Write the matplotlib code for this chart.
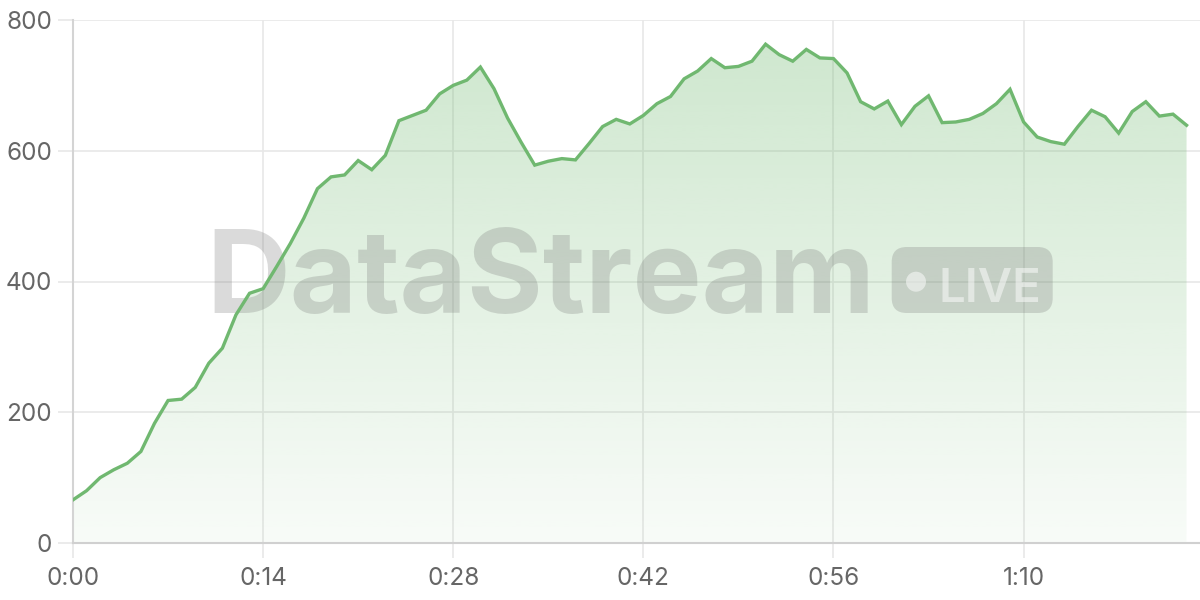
import numpy as np
import matplotlib
matplotlib.use("Agg")
import matplotlib.pyplot as plt
from matplotlib.patches import FancyBboxPatch, Circle
from matplotlib.transforms import IdentityTransform
from matplotlib.colors import to_rgb

# ---- data ----
seconds = list(range(0, 83))
values = [66, 80, 100, 112, 122, 140, 183, 218, 220, 238,
          275, 298, 349, 382, 389, 423, 458, 497, 542, 560,
          563, 585, 571, 593, 646, 654, 662, 687, 700, 708,
          728, 695, 650, 613, 578, 584, 588, 586, 611, 637,
          648, 641, 654, 672, 683, 710, 722, 741, 727, 729,
          737, 763, 747, 737, 755, 742, 741, 719, 675, 664,
          676, 640, 668, 684, 643, 644, 648, 657, 672, 694,
          644, 621, 614, 610, 637, 662, 652, 627, 660, 675,
          653, 656, 639]
xticks = [0, 14, 28, 42, 56, 70]
yticks = [0, 200, 400, 600, 800]
watermark = "DataStream"
badge = "LIVE"

def fmt(s):
    return f"{int(s)//60}:{int(s)%60:02d}"

plt.rcParams['font.family'] = ['Inter', 'DejaVu Sans']

fig = plt.figure(figsize=(12, 6), dpi=100)
ax = fig.add_axes([73/1200, 57/600, 1127/1200, 523/600])

line_color = '#70b870'
x = np.array(seconds, dtype=float)
y = np.array(values, dtype=float)

# gradient fill
poly = ax.fill_between(x, y, 0, color='none', lw=0, zorder=1)
rgb = np.array(to_rgb('#74bb74'))
n = 256
alphas = np.linspace(0.05, 0.36, n)[:, None]
img = np.zeros((n, 1, 4))
img[..., :3] = rgb
img[..., 3] = alphas
im = ax.imshow(img, extent=[x.min(), x.max(), 0, 800], origin='lower',
               aspect='auto', zorder=1, interpolation='bilinear')
im.set_clip_path(poly.get_paths()[0], transform=ax.transData)

ax.plot(x, y, color=line_color, lw=2.4, zorder=4, solid_joinstyle='miter')

ax.set_xlim(0, 1127/13.58)
ax.set_ylim(0, 800)
ax.set_xticks(xticks)
ax.set_xticklabels([fmt(t) for t in xticks])
ax.set_yticks(yticks)
ax.grid(True, color='#e8e8e8', lw=1.2, zorder=0)
ax.set_axisbelow(True)
for s in ['top', 'right']:
    ax.spines[s].set_visible(False)
ax.spines['left'].set_color('#d4d4d4')
ax.spines['bottom'].set_color('#d0d0d0')
ax.spines['left'].set_linewidth(1.5)
ax.spines['bottom'].set_linewidth(1.5)
ax.tick_params(axis='both', length=11, width=1.2, color='#e8e8e8',
               labelcolor='#666666', labelsize=17.5)
ax.tick_params(axis='x', pad=6)
ax.tick_params(axis='y', pad=4)

# watermark (pixel coordinates)
T = IdentityTransform()
wm_color = (0.45, 0.45, 0.45, 0.26)
ax.text(540.5, 600 - 313, watermark, transform=T, ha='center', va='baseline',
        fontsize=83.5, fontweight='bold', color=wm_color, zorder=3, clip_on=False)
bx0, by0, bw, bh = 891.7, 600 - 313, 161, 66
ax.add_artist(FancyBboxPatch((bx0 + 15, by0 + 15), bw - 30, bh - 30,
                             boxstyle="round,pad=15", transform=T,
                             facecolor=wm_color, edgecolor='none', zorder=3,
                             clip_on=False))
ax.add_artist(Circle((916, 600 - 281.7), 10, transform=T,
                     facecolor=(1, 1, 1, 0.5), edgecolor='none', zorder=3,
                     clip_on=False))
ax.text(938, 600 - 301.7, badge, transform=T, ha='left', va='baseline',
        fontsize=34, fontweight='semibold', color=(1, 1, 1, 0.5), zorder=3,
        clip_on=False)

fig.savefig('out.png', dpi=100)
